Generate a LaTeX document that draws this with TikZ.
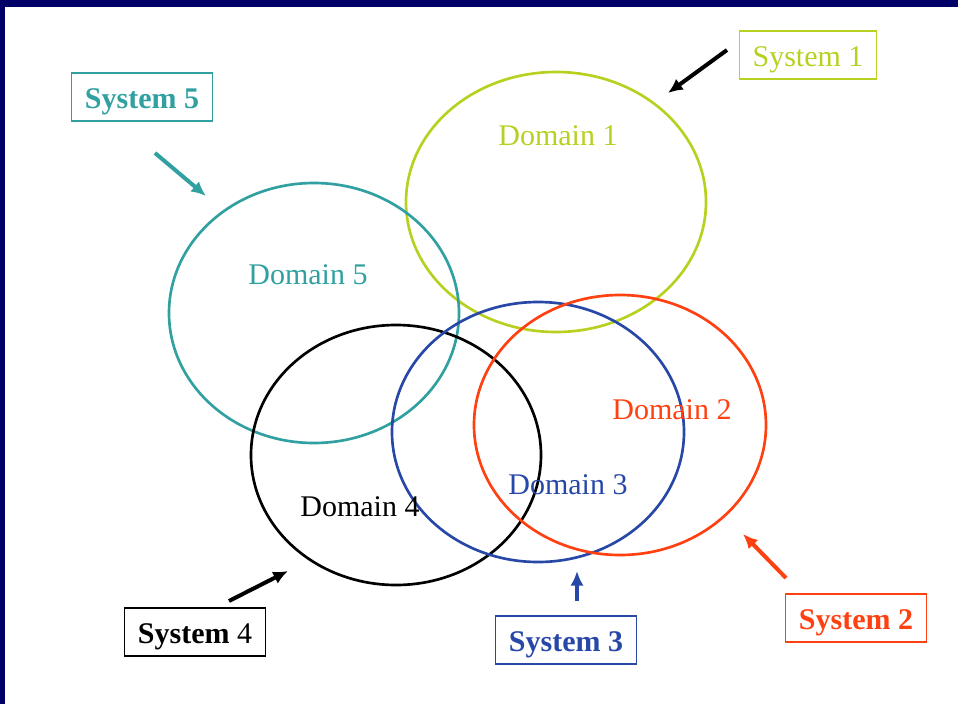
\documentclass[tikz,border=0pt]{standalone}
\usepackage{fontspec}
\setmainfont{Liberation Serif}
\definecolor{lime}{RGB}{184,208,32}
\definecolor{tealc}{RGB}{48,160,160}
\definecolor{bluec}{RGB}{40,72,168}
\definecolor{redc}{RGB}{255,64,16}
\definecolor{navyc}{RGB}{0,0,102}
\tikzset{
  dom/.style = {line width = 2pt},
  sysbox/.style = {draw, line width = .8pt, inner xsep = 10pt, minimum height = 36pt, text height = 17.5pt, text depth = 1pt},
  pointer/.style = {line width = 3pt, -{Latex[length = 11pt, width = 10pt]}}
}
\usetikzlibrary{arrows.meta}
\begin{document}
\begin{tikzpicture}[x = .75pt, y = -.75pt, font = \fontsize{22.5}{27}\selectfont]
      \useasboundingbox (0,0) rectangle (958,704);
      \fill [navyc] (0,0) rectangle (958,7);
      \fill [navyc] (0,0) rectangle (5,704);
      % domains
      \draw [dom, lime] (556,202) ellipse [x radius = 150, y radius = 130];
      \draw [dom, tealc] (314,313) ellipse [x radius = 145, y radius = 130];
      \draw [dom, black] (396,455) ellipse [x radius = 145, y radius = 130];
      \draw [dom, bluec] (538,432) ellipse [x radius = 146, y radius = 130];
      \draw [dom, redc] (620,425) ellipse [x radius = 146, y radius = 130];
      \node [lime] (d1) at (558,136) {Domain 1};
      \node [redc] (d2) at (672,410) {Domain 2};
      \node [bluec] (d3) at (568,485) {Domain 3};
      \node (d4) at (360,507) {Domain 4};
      \node [tealc] (d5) at (308,275) {Domain 5};
      % systems
      \node [sysbox, lime] (s1) at (808,55) {System 1};
      \node [sysbox, redc] (s2) at (856,618) {\textbf{System 2}};
      \node [sysbox, bluec] (s3) at (566,640) {\textbf{System 3}};
      \node [sysbox] (s4) at (195,632) {\textbf{System} 4};
      \node [sysbox, tealc] (s5) at (142,97) {\textbf{System 5}};
      % pointers
      \coordinate (a1) at (727,50); \coordinate (b1) at (668,93);
      \coordinate (a2) at (786,578); \coordinate (b2) at (743,534);
      \coordinate (a3) at (577,601); \coordinate (b3) at (577,571);
      \coordinate (a4) at (229,601); \coordinate (b4) at (288,571);
      \coordinate (a5) at (155,153); \coordinate (b5) at (206,196);
      \draw [pointer] (a1) -- (b1);
      \draw [pointer, redc] (a2) -- (b2);
      \draw [pointer, bluec] (a3) -- (b3);
      \draw [pointer] (a4) -- (b4);
      \draw [pointer, tealc] (a5) -- (b5);
\end{tikzpicture}
\end{document}
